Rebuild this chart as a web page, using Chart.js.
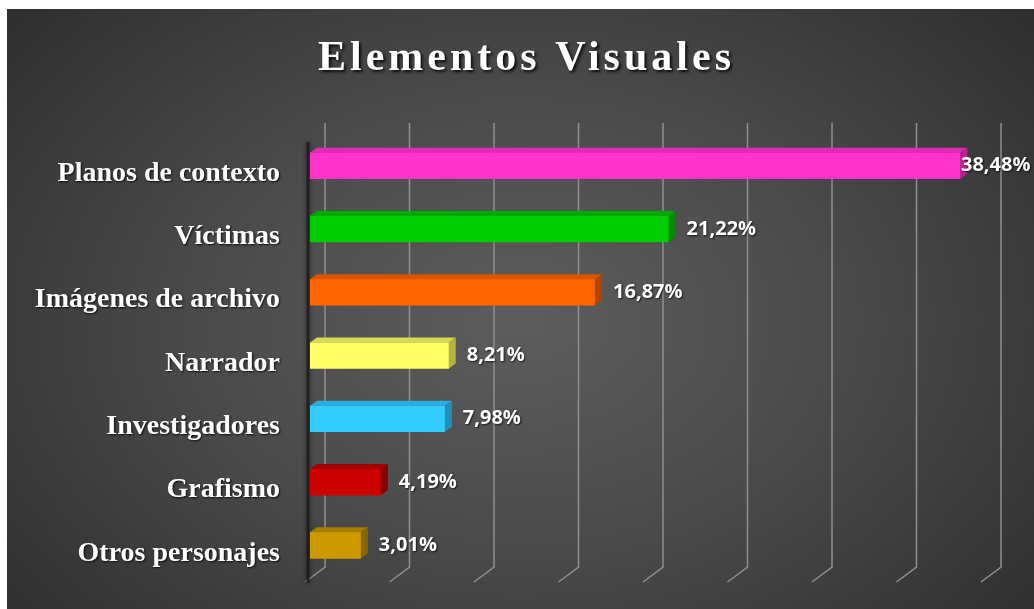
<!DOCTYPE html>
<html>
<head>
<meta charset="utf-8">
<script src="https://cdn.jsdelivr.net/npm/chart.js@4.4.1/dist/chart.umd.min.js"></script>
<style>
  html, body { margin: 0; padding: 0; background: #fff; }
  #wrap {
    position: absolute; left: 7px; top: 9px; width: 1027px; height: 600px;
    background: radial-gradient(ellipse 70% 85% at 50% 52%, #5d5d5d 0%, #4a4a4a 45%, #2b2b2b 100%);
  }
</style>
</head>
<body>
<div id="wrap"><canvas id="chart"></canvas></div>
<script>
const categories = ['Planos de contexto', 'Víctimas', 'Imágenes de archivo', 'Narrador', 'Investigadores', 'Grafismo', 'Otros personajes'];
const values = [38.48, 21.22, 16.87, 8.21, 7.98, 4.19, 3.01];
const barColors = ['#ff33cc', '#00cc00', '#ff6600', '#ffff66', '#33ccff', '#cc0000', '#cc9900'];
const topColors = ['#e02cb3', '#00a800', '#d95500', '#d9d955', '#2aaee0', '#a30000', '#a87d00'];
const sideColors = ['#b8238f', '#008a00', '#b04500', '#b3b345', '#228fb8', '#850000', '#8a6600'];
const xTicks = [0, 5, 10, 15, 20, 25, 30, 35, 40];
const titleText = 'Elementos Visuales';

const DEPTH_X = 7, DEPTH_Y = 5;
const fmt = v => v.toFixed(2).replace('.', ',') + '%';

// fake 3D: back-wall gridlines, bar top/side faces, value labels, title
const decor = {
  id: 'decor',
  beforeDraw(chart) {
    const ctx = chart.ctx;
    ctx.save();
    ctx.shadowColor = 'rgba(0,0,0,0.8)';
    ctx.shadowOffsetX = 1;
    ctx.shadowOffsetY = 1;
    ctx.shadowBlur = 2;
  },
  beforeDatasetsDraw(chart) {
    const ctx = chart.ctx;
    ctx.restore();
    const a = chart.chartArea, x = chart.scales.x;
    ctx.save();
    ctx.strokeStyle = '#8f8f8f';
    ctx.lineWidth = 1.5;
    xTicks.forEach(t => {
      const px = x.getPixelForValue(t) + 15;
      ctx.beginPath();
      ctx.moveTo(px, a.top - 11);
      ctx.lineTo(px, a.bottom - 10);
      ctx.lineTo(px - 20, a.bottom + 5);
      ctx.stroke();
    });
    // dark axis edge
    const x0 = x.getPixelForValue(0) - 2;
    ctx.strokeStyle = 'rgba(15,15,15,0.6)';
    ctx.lineWidth = 3;
    ctx.shadowColor = 'rgba(0,0,0,0.9)';
    ctx.shadowBlur = 5;
    ctx.beginPath();
    ctx.moveTo(x0, a.top + 8);
    ctx.lineTo(x0, a.bottom + 6);
    ctx.stroke();
    ctx.restore();
  },
  afterDatasetsDraw(chart) {
    const ctx = chart.ctx;
    const meta = chart.getDatasetMeta(0);
    ctx.save();
    meta.data.forEach((bar, i) => {
      const h = bar.height / 2;
      const top = bar.y - h, bot = bar.y + h;
      ctx.fillStyle = topColors[i];
      ctx.beginPath();
      ctx.moveTo(bar.base, top);
      ctx.lineTo(bar.x, top);
      ctx.lineTo(bar.x + DEPTH_X, top - DEPTH_Y);
      ctx.lineTo(bar.base + DEPTH_X, top - DEPTH_Y);
      ctx.closePath();
      ctx.fill();
      ctx.fillStyle = sideColors[i];
      ctx.beginPath();
      ctx.moveTo(bar.x, top);
      ctx.lineTo(bar.x + DEPTH_X, top - DEPTH_Y);
      ctx.lineTo(bar.x + DEPTH_X, bot - DEPTH_Y);
      ctx.lineTo(bar.x, bot);
      ctx.closePath();
      ctx.fill();
    });
    ctx.font = 'bold 20px "Open Sans"';
    ctx.fillStyle = '#ffffff';
    ctx.textBaseline = 'middle';
    ctx.shadowColor = 'rgba(0,0,0,0.7)';
    ctx.shadowOffsetX = 1;
    ctx.shadowOffsetY = 1;
    ctx.shadowBlur = 2;
    meta.data.forEach((bar, i) => {
      const lx = Math.min(bar.x + 18, chart.width - 73);
      ctx.fillText(fmt(values[i]), lx, bar.y);
    });
    ctx.restore();
  },
  afterDraw(chart) {
    const ctx = chart.ctx;
    ctx.save();
    ctx.font = 'bold 42px "Liberation Serif"';
    ctx.letterSpacing = '4px';
    ctx.fillStyle = '#ffffff';
    ctx.textAlign = 'center';
    ctx.textBaseline = 'middle';
    ctx.shadowColor = 'rgba(0,0,0,0.85)';
    ctx.shadowOffsetX = 2;
    ctx.shadowOffsetY = 2;
    ctx.shadowBlur = 3;
    ctx.fillText(titleText, chart.width / 2 + 6, 50);
    ctx.restore();
  }
};

new Chart(document.getElementById('chart'), {
  type: 'bar',
  data: {
    labels: categories,
    datasets: [{
      data: values,
      backgroundColor: barColors,
      borderWidth: 0,
      barThickness: 26
    }]
  },
  options: {
    indexAxis: 'y',
    responsive: true,
    maintainAspectRatio: false,
    animation: false,
    layout: { padding: { top: 125, right: 48, bottom: 32, left: 0 } },
    scales: {
      x: { display: false, min: 0, max: 40 },
      y: {
        grid: { display: false, drawTicks: false },
        border: { display: false },
        ticks: {
          color: '#ffffff',
          padding: 30,
          labelOffset: 8,
          font: { family: '"Liberation Serif"', weight: 'bold', size: 28 }
        },
        afterFit(scale) {
          scale.width = 303;
          scale.paddingTop = 0;
          scale.paddingBottom = 0;
        }
      }
    },
    plugins: {
      legend: { display: false },
      tooltip: { enabled: false }
    }
  },
  plugins: [decor]
});
</script>
</body>
</html>
